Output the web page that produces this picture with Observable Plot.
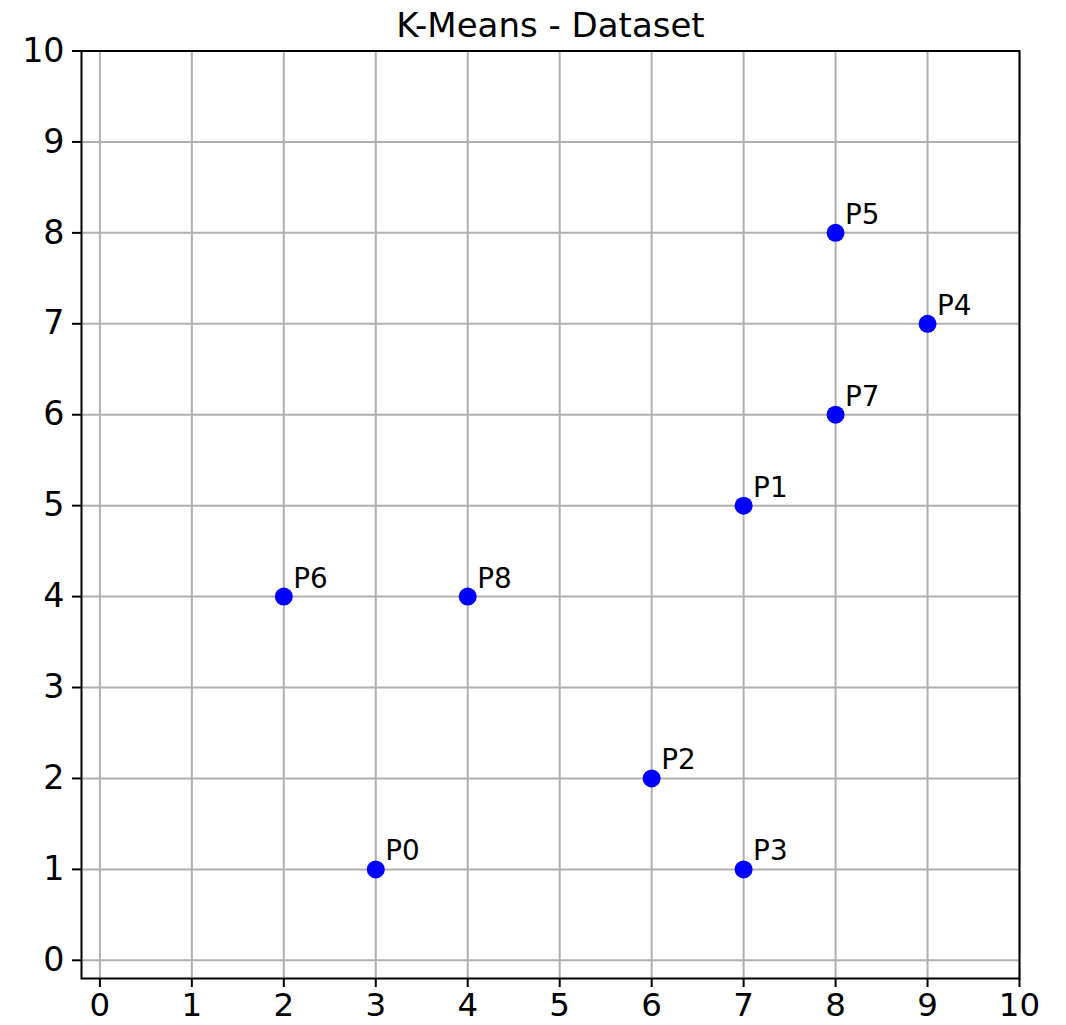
<!DOCTYPE html>
<html>
<head>
<meta charset="utf-8">
<script src="https://cdn.jsdelivr.net/npm/d3@7"></script>
<script src="https://cdn.jsdelivr.net/npm/@observablehq/plot@0.6"></script>
<style>
  html, body { margin: 0; padding: 0; background: white; }
</style>
</head>
<body>
<div id="chart"></div>
<script>
const pointLabels = ["P0", "P1", "P2", "P3", "P4", "P5", "P6", "P7", "P8"];
const xValues = [3, 7, 6, 7, 9, 8, 2, 8, 4];
const yValues = [1, 5, 2, 1, 7, 8, 4, 6, 4];
const tickValues = [0, 1, 2, 3, 4, 5, 6, 7, 8, 9, 10];
const titleText = "K-Means - Dataset";

const data = pointLabels.map((label, i) => ({label, x: xValues[i], y: yValues[i]}));

const chart = Plot.plot({
  width: 1066,
  height: 1025,
  marginLeft: 81,
  marginRight: 47,
  marginTop: 50.5,
  marginBottom: 47,
  style: {fontFamily: "'DejaVu Sans', sans-serif", background: "white", color: "black"},
  x: {domain: [-0.2, 10]},
  y: {domain: [-0.2, 10]},
  marks: [
    Plot.gridX(tickValues, {stroke: "#b0b0b0", strokeOpacity: 1, strokeWidth: 2}),
    Plot.gridY(tickValues, {stroke: "#b0b0b0", strokeOpacity: 1, strokeWidth: 2}),
    Plot.frame({stroke: "black", strokeWidth: 2}),
    Plot.axisX({ticks: tickValues, tickSize: 9, tickPadding: 5.5, fontSize: 32.5, strokeWidth: 2, label: null, tickFormat: d => String(d)}),
    Plot.axisY({ticks: tickValues, tickSize: 9, tickPadding: 8, fontSize: 33.3, strokeWidth: 2, label: null, tickFormat: d => String(d)}),
    Plot.dot(data, {x: "x", y: "y", r: 9, fill: "blue", stroke: "none"}),
    Plot.text(data, {x: "x", y: "y", text: "label", dx: 9.5, dy: -9, textAnchor: "start", lineAnchor: "bottom", fontSize: 27.8, fill: "black"}),
    Plot.text([titleText], {frameAnchor: "top", lineAnchor: "bottom", dy: -14.5, fontSize: 34, fill: "black"})
  ]
});
document.getElementById("chart").appendChild(chart);
</script>
</body>
</html>
